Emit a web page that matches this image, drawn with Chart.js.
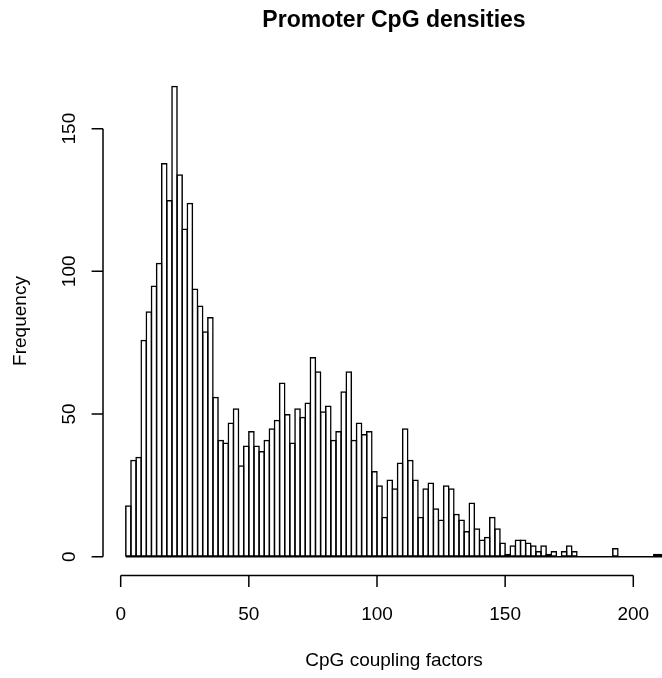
<!DOCTYPE html>
<html>
<head>
<meta charset="utf-8">
<title>Promoter CpG densities</title>
<script src="https://cdn.jsdelivr.net/npm/chart.js@4.4.1/dist/chart.umd.min.js"></script>
<style>
  html, body { margin: 0; padding: 0; background: #fff; }
  canvas { display: block; }
</style>
</head>
<body>
<canvas id="histChart" width="662" height="678"></canvas>
<script>
// Histogram bins (each 2 wide), centres of the bins
const binCenters = [
    3, 5, 7, 9, 11, 13, 15, 17, 19, 21,
    23, 25, 27, 29, 31, 33, 35, 37, 39, 41,
    43, 45, 47, 49, 51, 53, 55, 57, 59, 61,
    63, 65, 67, 69, 71, 73, 75, 77, 79, 81,
    83, 85, 87, 89, 91, 93, 95, 97, 99, 101,
    103, 105, 107, 109, 111, 113, 115, 117, 119, 121,
    123, 125, 127, 129, 131, 133, 135, 137, 139, 141,
    143, 145, 147, 149, 151, 153, 155, 157, 159, 161,
    163, 165, 167, 169, 171, 173, 175, 177, 179, 181,
    183, 185, 187, 189, 191, 193, 195, 197, 199, 201,
    203, 205, 207, 209, 211
];
const binWidth = 2;

// Frequencies
const counts = [
    18, 34, 35, 76, 86, 95, 103, 138, 125, 165,
    134, 115, 124, 94, 88, 79, 84, 56, 41, 40,
    47, 52, 32, 39, 44, 39, 37, 41, 45, 48,
    61, 50, 40, 52, 49, 54, 70, 65, 51, 53,
    41, 44, 58, 65, 41, 47, 43, 44, 30, 25,
    14, 27, 24, 33, 45, 34, 27, 14, 24, 26,
    17, 13, 25, 24, 15, 13, 9, 19, 10, 6,
    7, 14, 10, 5, 1, 4, 6, 6, 5, 4,
    2, 4, 1, 2, 0, 2, 4, 2, 0, 0,
    0, 0, 0, 0, 0, 3, 0, 0, 0, 0,
    0, 0, 0, 1, 1
];

const xTicks = [0, 50, 100, 150, 200];
const yTicks = [0, 50, 100, 150];

const mainTitle = 'Promoter CpG densities';
const xLabel = 'CpG coupling factors';
const yLabel = 'Frequency';

// layout (R style plot region, cut at the right edge of the picture)
const xMin = -6.9, xMax = 211.2;
const yMin = -6.6, yMax = 171.6;
const pad = { left: 103, right: 0, top: 67, bottom: 102.5 };
const lineW = 1.5;
const tickLen = 11.4;
const fontFamily = '"Liberation Sans", Arial, Helvetica, sans-serif';

// bars overlap by one line width so shared edges look like a single line
const binPx = (662 - pad.left - pad.right) / (xMax - xMin) * binWidth;
const barPct = (binPx + lineW) / binPx;

// draws axes, labels and titles the way R's hist() does
const rAxes = {
    id: 'rAxes',
    afterDraw(chart) {
        const ctx = chart.ctx;
        const xs = chart.scales.x;
        const ys = chart.scales.y;
        const area = chart.chartArea;
        ctx.save();
        ctx.strokeStyle = '#000';
        ctx.fillStyle = '#000';
        ctx.lineWidth = lineW;

        // baseline under the bars (zero-height bins)
        const y0 = ys.getPixelForValue(0);
        ctx.beginPath();
        ctx.moveTo(xs.getPixelForValue(binCenters[0] - binWidth / 2), y0);
        ctx.lineTo(xs.getPixelForValue(binCenters[binCenters.length - 1] + binWidth / 2), y0);
        ctx.stroke();

        // x axis
        const axY = area.bottom;
        ctx.beginPath();
        ctx.moveTo(xs.getPixelForValue(xTicks[0]), axY);
        ctx.lineTo(xs.getPixelForValue(xTicks[xTicks.length - 1]), axY);
        xTicks.forEach(t => {
            const px = xs.getPixelForValue(t);
            ctx.moveTo(px, axY);
            ctx.lineTo(px, axY + tickLen);
        });
        ctx.stroke();

        ctx.font = '19px ' + fontFamily;
        ctx.textAlign = 'center';
        ctx.textBaseline = 'alphabetic';
        xTicks.forEach(t => {
            ctx.fillText(String(t), xs.getPixelForValue(t), 620);
        });

        // y axis
        const axX = area.left;
        ctx.beginPath();
        ctx.moveTo(axX, ys.getPixelForValue(yTicks[0]));
        ctx.lineTo(axX, ys.getPixelForValue(yTicks[yTicks.length - 1]));
        yTicks.forEach(t => {
            const py = ys.getPixelForValue(t);
            ctx.moveTo(axX, py);
            ctx.lineTo(axX - tickLen, py);
        });
        ctx.stroke();

        yTicks.forEach(t => {
            ctx.save();
            ctx.translate(75, ys.getPixelForValue(t));
            ctx.rotate(-Math.PI / 2);
            ctx.fillText(String(t), 0, 0);
            ctx.restore();
        });

        // axis titles
        ctx.fillText(xLabel, 394, 665.5);
        ctx.save();
        ctx.translate(25.5, 321);
        ctx.rotate(-Math.PI / 2);
        ctx.fillText(yLabel, 0, 0);
        ctx.restore();

        // main title
        ctx.font = 'bold 23px ' + fontFamily;
        ctx.fillText(mainTitle, 394, 27);

        ctx.restore();
    }
};

const ctx = document.getElementById('histChart').getContext('2d');
new Chart(ctx, {
    type: 'bar',
    data: {
        datasets: [{
            label: yLabel,
            data: binCenters.map((c, i) => ({ x: c, y: counts[i] })),
            backgroundColor: 'rgba(255, 255, 255, 0)',
            borderColor: '#000',
            borderWidth: lineW,
            borderSkipped: false,
            categoryPercentage: 1,
            barPercentage: barPct
        }]
    },
    options: {
        responsive: false,
        animation: false,
        layout: { padding: pad },
        plugins: {
            legend: { display: false },
            title: { display: false },
            tooltip: { enabled: false }
        },
        scales: {
            x: {
                type: 'linear', min: xMin, max: xMax, display: false,
                offset: false, grid: { offset: false }
            },
            y: { type: 'linear', min: yMin, max: yMax, display: false }
        }
    },
    plugins: [rAxes]
});
</script>
</body>
</html>
